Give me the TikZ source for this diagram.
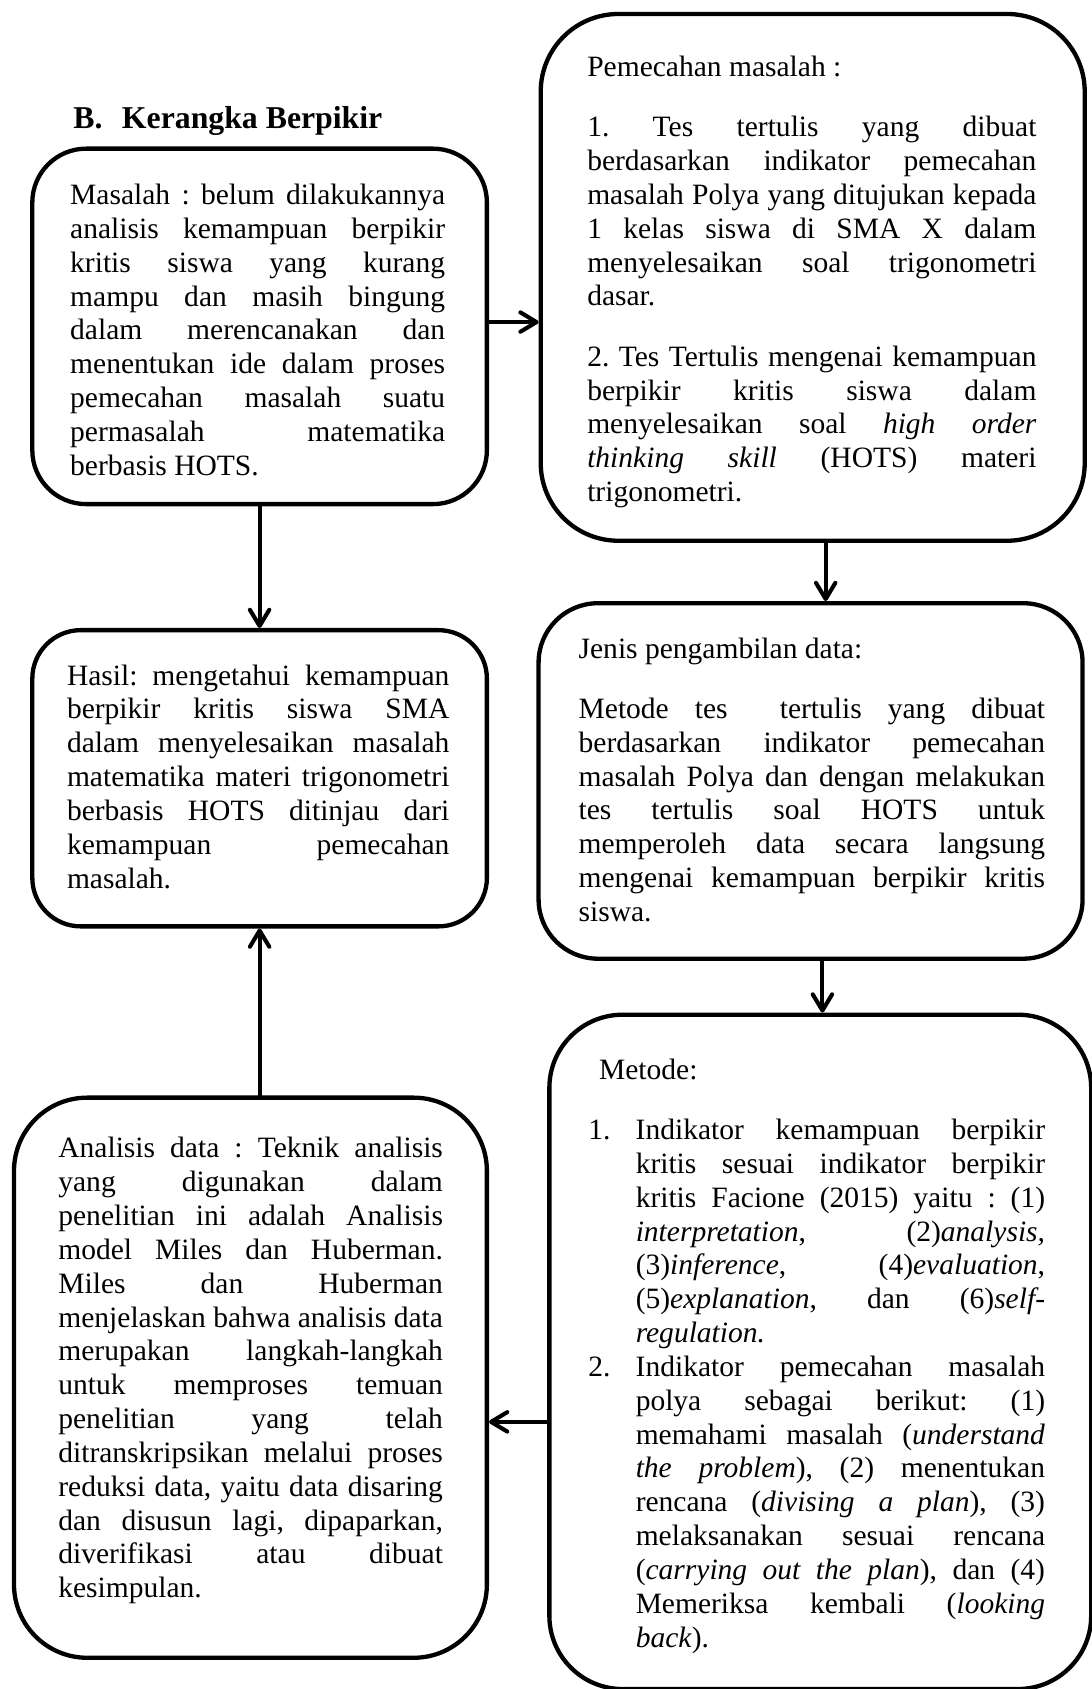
\documentclass[tikz,border=0pt]{standalone}
\usepackage{fontspec}
\setmainfont{Liberation Serif}
\usetikzlibrary{arrows.meta}
\newcommand{\jl}{\linebreak}
\frenchspacing

\begin{document}
\begin{tikzpicture}[x=1pt,y=1pt,line join=round,
  kotak/.style={draw,line width=4pt,inner sep=0pt,anchor=north west,
    rounded corners=#1},
  isi/.style={inner sep=0pt,anchor=base west,align=justify,
    font=\fontsize{27.4}{31.4}\selectfont,
    execute at begin node={\parindent=0pt\tolerance=10000\hbadness=10000
      \hyphenpenalty=10000\exhyphenpenalty=10000\frenchspacing}},
  panah/.style={line width=3.8pt,line cap=round,
    -{Straight Barb[length=15pt,width=18pt,round]}}]
\useasboundingbox (0,0) rectangle (1013,-1568);
% judul
\node[inner sep=0pt,anchor=base west,font=\bfseries\fontsize{29.5}{34}\selectfont]
  (judul) at (68,-119) {\makebox[45pt][l]{B.}Kerangka Berpikir};
% kotak-kotak
\node[kotak=50,minimum width=422,minimum height=330] (masalah) at (28,-136) {};
\node[kotak=72,minimum width=505,minimum height=489] (pemecahan) at (500,-11) {};
\node[kotak=45,minimum width=422,minimum height=275] (hasil) at (28,-583) {};
\node[kotak=55,minimum width=505,minimum height=330] (jenis) at (498,-558) {};
\node[kotak=68,minimum width=439,minimum height=520] (analisis) at (11,-1017) {};
\node[kotak=68,minimum width=503,minimum height=626] (metode) at (508,-940) {};
% isi kotak
\node[isi,text width=348] (tmasalah) at (65,-190) {Masalah : belum dilakukannya\jl
  analisis kemampuan berpikir\jl
  kritis siswa yang kurang\jl
  mampu dan masih bingung\jl
  dalam merencanakan dan\jl
  menentukan ide dalam proses\jl
  pemecahan masalah suatu\jl
  permasalah matematika\jl
  berbasis HOTS.};
\node[isi,text width=417] (tpemecahan) at (545,-71) {Pemecahan masalah :\par\vspace{24.6pt}
  1. Tes tertulis yang dibuat\jl
  berdasarkan indikator pemecahan\jl
  masalah Polya yang ditujukan kepada\jl
  1 kelas siswa di SMA X dalam\jl
  menyelesaikan soal trigonometri\jl
  dasar.\par\vspace{24.6pt}
  2. Tes Tertulis mengenai kemampuan\jl
  berpikir kritis siswa dalam\jl
  menyelesaikan soal \textit{high order}\jl
  \textit{thinking skill} (HOTS) materi\jl
  trigonometri.};
\node[isi,text width=355] (thasil) at (62,-636) {Hasil: mengetahui kemampuan\jl
  berpikir kritis siswa SMA\jl
  dalam menyelesaikan masalah\jl
  matematika materi trigonometri\jl
  berbasis HOTS ditinjau dari\jl
  kemampuan pemecahan\jl
  masalah.};
\node[isi,text width=433] (tjenis) at (537,-611) {Jenis pengambilan data:\par\vspace{24.6pt}
  Metode tes \ tertulis yang dibuat\jl
  berdasarkan indikator pemecahan\jl
  masalah Polya dan dengan melakukan\jl
  tes tertulis soal HOTS untuk\jl
  memperoleh data secara langsung\jl
  mengenai kemampuan berpikir kritis\jl
  siswa.};
\node[isi,text width=357] (tanalisis) at (54,-1075) {Analisis data : Teknik analisis\jl
  yang digunakan dalam\jl
  penelitian ini adalah Analisis\jl
  model Miles dan Huberman.\jl
  Miles dan Huberman\jl
  menjelaskan bahwa analisis data\jl
  merupakan langkah-langkah\jl
  untuk memproses temuan\jl
  penelitian yang telah\jl
  ditranskripsikan melalui proses\jl
  reduksi data, yaitu data disaring\jl
  dan disusun lagi, dipaparkan,\jl
  diverifikasi atau dibuat\jl
  kesimpulan.};
\node[isi,text width=424] (tmetode) at (546,-1002) {\hspace*{10pt}Metode:\par\vspace{24.6pt}
  \leavevmode\hangindent=44pt\hangafter=1\makebox[44pt][l]{1.}Indikator kemampuan berpikir\jl
  kritis sesuai indikator berpikir\jl
  kritis Facione (2015) yaitu : (1)\jl
  \textit{interpretation}, (2)\textit{analysis,}\jl
  (3)\textit{inference}, (4)\textit{evaluation},\jl
  (5)\textit{explanation}, dan (6)\textit{self-}\jl
  \textit{regulation.}\par
  \leavevmode\hangindent=44pt\hangafter=1\makebox[44pt][l]{2.}Indikator pemecahan masalah\jl
  polya sebagai berikut: (1)\jl
  memahami masalah (\textit{understand}\jl
  \textit{the problem}), (2) menentukan\jl
  rencana (\textit{divising a plan}), (3)\jl
  melaksanakan sesuai rencana\jl
  (\textit{carrying out the plan}), dan (4)\jl
  Memeriksa kembali (\textit{looking}\jl
  \textit{back}).\par};
% panah
\draw[panah] ([yshift=4]masalah.east) -- ([yshift=4]masalah.east -| pemecahan.west);
\draw[panah] (masalah.south) -- (hasil.north);
\draw[panah] ([xshift=12]pemecahan.south) -- ([xshift=12]pemecahan.south |- jenis.north);
\draw[panah] ([xshift=11]jenis.south) -- ([xshift=11]jenis.south |- metode.north);
\draw[panah] ([yshift=-65]metode.west) -- ([yshift=-65]metode.west -| analisis.east);
\draw[panah] (analisis.north -| hasil.south) -- (hasil.south);
\end{tikzpicture}
\end{document}
